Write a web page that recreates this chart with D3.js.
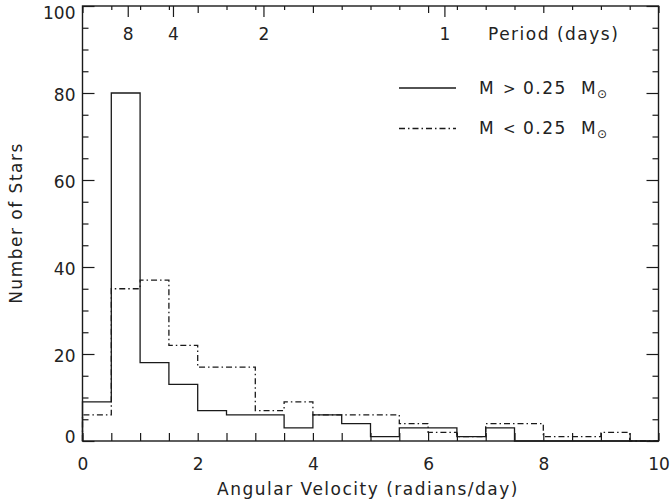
<!DOCTYPE html>
<html><head><meta charset="utf-8">
<script src="https://cdn.jsdelivr.net/npm/d3@7"></script>
<style>
body{margin:0;background:#fff;}
svg{display:block;}
text{font-family:"DejaVu Sans",sans-serif;fill:#222;}
</style></head>
<body>
<svg id="c" width="672" height="504"></svg>
<script>
// ---- data ----
const binEdges = [0,0.5,1,1.5,2,2.5,3,3.5,4,4.5,5,5.5,6,6.5,7,7.5,8,8.5,9,9.5,10];
const highMass = [9,80,18,13,7,6,6,3,6,4,1,3,3,1,3,0,0,0,0,0];   // M > 0.25 Msun
const lowMass  = [6,35,37,22,17,17,7,9,6,6,6,4,2,1,4,4,1,1,2,0];  // M < 0.25 Msun
const yMajorTicks = [0,20,40,60,80,100];
const xMajorTicks = [0,2,4,6,8,10];
const periodTicks = [8,4,2,1];
const legendLabels = ["M > 0.25 M", "M < 0.25 M"];

const svg = d3.select("#c");
const x = d3.scaleLinear().domain([0,10]).range([82.5,658.5]);
const y = d3.scaleLinear().domain([0,100]).range([441,6]);
const col = "#1a1a1a";

// frame
svg.append("rect").attr("x",x(0)).attr("y",y(100)).attr("width",x(10)-x(0)).attr("height",y(0)-y(100))
  .attr("fill","none").attr("stroke",col).attr("stroke-width",1.4);

function styleAxis(g){
  g.select(".domain").remove();
  g.selectAll(".tick line").attr("stroke",col).attr("stroke-width",1.2);
  g.selectAll(".tick text").attr("font-size",17).attr("fill","#222").attr("font-family","DejaVu Sans");
}
const halfSteps = d3.range(0,10.01,0.5);
const fiveSteps = d3.range(0,100.01,5);

// bottom axis
svg.append("g").attr("transform",`translate(0,${y(0)})`)
  .call(d3.axisBottom(x).tickValues(halfSteps).tickSize(-8).tickPadding(17)
        .tickFormat(d => xMajorTicks.includes(d) ? d3.format("d")(d) : ""))
  .call(styleAxis);

// top axis (mirror)
svg.append("g").attr("transform",`translate(0,${y(100)})`)
  .call(d3.axisTop(x).tickValues(halfSteps.filter(d=>!xMajorTicks.includes(d))).tickSize(-4).tickFormat(""))
  .call(styleAxis);
svg.append("g").attr("transform",`translate(0,${y(100)})`)
  .call(d3.axisTop(x).tickValues(xMajorTicks).tickSize(-7).tickFormat(""))
  .call(styleAxis);
// period axis on top: omega = 2*pi/P
const periodAxis = svg.append("g").attr("transform",`translate(0,${y(100)})`)
  .call(d3.axisTop(x).tickValues(periodTicks.map(p=>2*Math.PI/p)).tickSize(-11)
        .tickFormat((d,i)=>String(periodTicks[i])))
  .call(styleAxis);
periodAxis.selectAll(".tick text").attr("y",34).attr("dy",0);
svg.append("text").attr("x",488).attr("y",40).attr("font-size",17).attr("letter-spacing","1.5px")
  .text("Period (days)");

// left axis
svg.append("g").attr("transform",`translate(${x(0)},0)`)
  .call(d3.axisLeft(y).tickValues(fiveSteps.filter(d=>!yMajorTicks.includes(d))).tickSize(-6).tickFormat(""))
  .call(styleAxis);
const leftMajor = svg.append("g").attr("transform",`translate(${x(0)},0)`)
  .call(d3.axisLeft(y).tickValues(yMajorTicks).tickSize(-12).tickPadding(7).tickFormat(d3.format("d")))
  .call(styleAxis);
leftMajor.selectAll(".tick text").attr("dy", d => d===100 ? "0.75em" : d===0 ? "0.08em" : "0.42em");
// right axis
svg.append("g").attr("transform",`translate(${x(10)},0)`)
  .call(d3.axisRight(y).tickValues(fiveSteps.filter(d=>!yMajorTicks.includes(d))).tickSize(-6).tickFormat(""))
  .call(styleAxis);
svg.append("g").attr("transform",`translate(${x(10)},0)`)
  .call(d3.axisRight(y).tickValues(yMajorTicks).tickSize(-12).tickFormat(""))
  .call(styleAxis);

// titles
svg.append("text").attr("x",368).attr("y",495).attr("text-anchor","middle").attr("font-size",17)
  .attr("letter-spacing","1.5px").text("Angular Velocity (radians/day)");
svg.append("text").attr("transform","translate(22,223) rotate(-90)").attr("text-anchor","middle")
  .attr("font-size",17).attr("letter-spacing","1.5px").text("Number of Stars");

// histograms as steps
function stepPts(vals){
  const pts = [[binEdges[0],0]];
  vals.forEach((v,i)=>{ pts.push([binEdges[i],v]); pts.push([binEdges[i+1],v]); });
  pts.push([binEdges[binEdges.length-1],0]);
  return pts;
}
const line = d3.line().x(d=>x(d[0])).y(d=>y(d[1]));
svg.append("path").attr("d",line(stepPts(lowMass))).attr("fill","none").attr("stroke",col)
  .attr("stroke-width",1.3).attr("stroke-dasharray","6,3,1.5,3");
svg.append("path").attr("d",line(stepPts(highMass))).attr("fill","none").attr("stroke",col)
  .attr("stroke-width",1.3);

// legend
const leg = [{label:legendLabels[0],dash:null,y:88},{label:legendLabels[1],dash:"6,3,1.5,3",y:128.5}];
leg.forEach((l,i)=>{
  svg.append("line").attr("x1",399).attr("x2",456).attr("y1",l.y).attr("y2",l.y)
    .attr("stroke",col).attr("stroke-width",1.3).attr("stroke-dasharray",l.dash);
  const parts = l.label.split(" ");
  const xs = [479,503,523,581];
  parts.forEach((p,j)=>{
    svg.append("text").attr("x",xs[j]).attr("y",l.y+5.5).attr("font-size",j==1?15:17)
      .attr("letter-spacing",j==2?"1.5px":"0px").text(p);
  });
  svg.append("text").attr("x",597).attr("y",l.y+9.5).attr("font-size",12).text("\u2299");
});
</script>
</body></html>
